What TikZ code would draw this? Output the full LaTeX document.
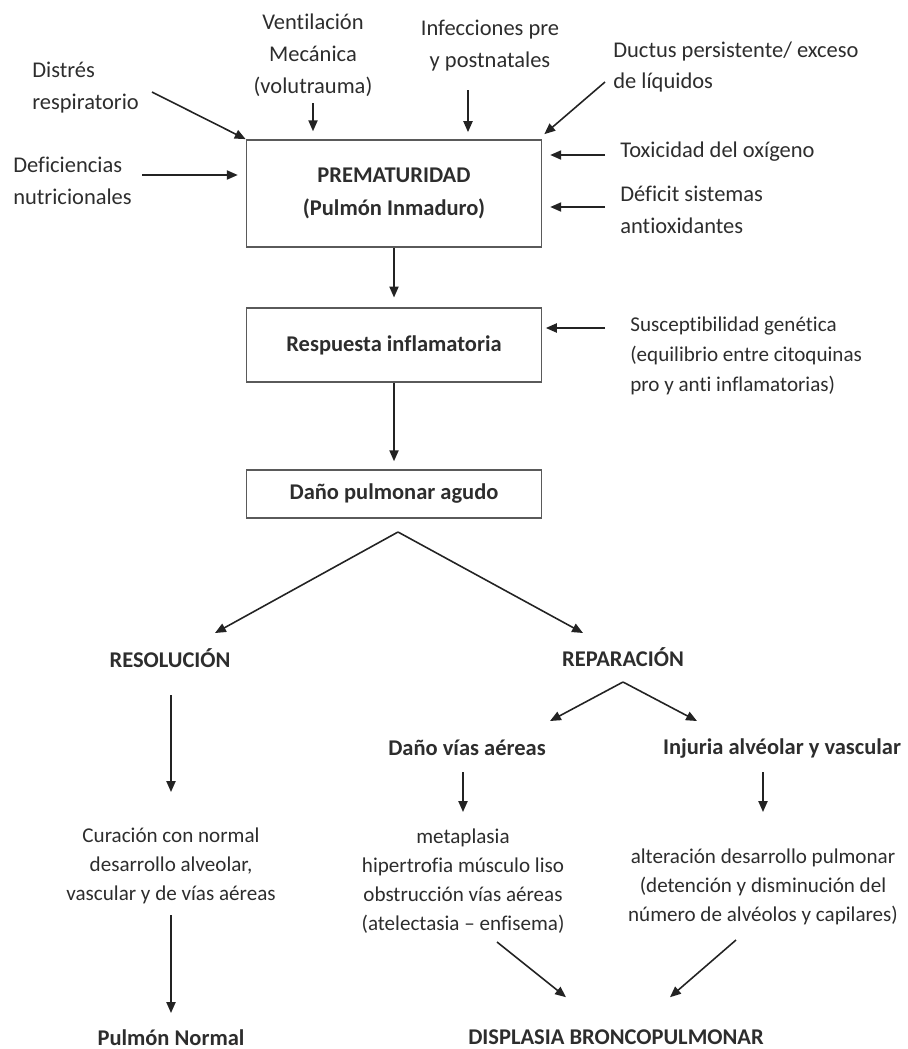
\documentclass[tikz,border=0pt]{standalone}
\usepackage{fontspec}
\setmainfont{Carlito}[Ligatures=NoCommon]
\usepackage{tikz}
\usetikzlibrary{calc,arrows.meta}
\definecolor{textgray}{RGB}{45,45,45}
\definecolor{linegray}{RGB}{35,35,35}
\definecolor{boxgray}{RGB}{90,90,90}

\begin{document}
\begin{tikzpicture}[x=0.02cm, y=-0.02cm,
    lbl/.style={text=textgray, inner sep=0pt, align=center, font=\fontsize{12.8}{18.2}\selectfont},
    lblleft/.style={lbl, align=left, anchor=west},
    lblsmall/.style={lbl, font=\fontsize{12}{16.4}\selectfont},
    head/.style={lbl, font=\fontsize{12.8}{18.2}\selectfont\bfseries},
    stage/.style={draw=boxgray, line width=1pt, text=textgray, align=center,
        font=\fontsize{12.8}{18.7}\selectfont\bfseries, minimum width=5.9cm},
    flow/.style={draw=linegray, line width=0.9pt, -{Triangle[length=6.2pt,width=5.2pt]}}]
    \useasboundingbox (0,0) rectangle (907,1049);

    % Main boxes
    \node[stage, minimum height=2.14cm] (prem) at (394,193.5) {PREMATURIDAD\\(Pulmón Inmaduro)};
    \node[stage, minimum height=1.48cm] (resp) at (394,345) {Respuesta inflamatoria};
    \node[stage, minimum height=0.96cm] (dano) at (394,494) {Daño pulmonar agudo};

    % Risk factors around the top box
    \node[lblleft] (distres) at (32,88) {Distrés\\respiratorio};
    \node[lbl] (vent) at (313,55) {Ventilación\\Mecánica\\(volutrauma)};
    \node[lbl] (infec) at (490,46) {Infecciones pre\\y postnatales};
    \node[lblleft] (ductus) at (613,67) {Ductus persistente/ exceso\\de líquidos};
    \node[lblleft] (defic) at (13,181) {Deficiencias\\nutricionales};
    \node[lblleft] (toxic) at (620,152) {Toxicidad del oxígeno};
    \node[lblleft] (deficit) at (620,210) {Déficit sistemas\\antioxidantes};
    \node[lblleft, font=\fontsize{12}{17}\selectfont] (suscep) at (630,356)
        {Susceptibilidad genética\\(equilibrio entre citoquinas\\pro y anti inflamatorias)};

    % Tails of the factor arrows
    \coordinate (distres-t) at (152,92);
    \coordinate (vent-t) at (313,103);
    \coordinate (infec-t) at (468,90);
    \coordinate (ductus-t) at (605,82);
    \coordinate (defic-t) at (142,175);
    \coordinate (toxic-t) at (605,155);
    \coordinate (deficit-t) at (605,207);
    \coordinate (suscep-t) at (605,328);

    \draw[flow] (distres-t) -- (prem.north west);
    \draw[flow, shorten >=4.5pt] (vent-t) -- (vent-t |- prem.north);
    \draw[flow, shorten >=4pt] (infec-t) -- (infec-t |- prem.north);
    \draw[flow] (ductus-t) -- ($(prem.north east)+(2,-5)$);
    \draw[flow, shorten >=4.5pt] (defic-t) -- (defic-t -| prem.west);
    \draw[flow, shorten >=4.5pt] (toxic-t) -- (toxic-t -| prem.east);
    \draw[flow, shorten >=4.5pt] (deficit-t) -- (deficit-t -| prem.east);
    \draw[flow, shorten >=2pt] (suscep-t) -- (suscep-t -| resp.east);

    % Main chain
    \draw[flow, shorten >=5.5pt] (prem) -- (resp);
    \draw[flow, shorten >=4.5pt] (resp) -- (dano);

    % Outcomes
    \node[head] (resol) at (170,658) {RESOLUCIÓN};
    \node[head] (repar) at (623,657) {REPARACIÓN};
    \node[head] (danovias) at (467,748) {Daño vías aéreas};
    \node[head] (injuria) at (782,748) {Injuria alvéolar y vascular};
    \node[lblsmall] (curacion) at (171,866) {Curación con normal\\desarrollo alveolar,\\vascular y de vías aéreas};
    \node[lblsmall] (metapl) at (463,881) {metaplasia\\hipertrofia músculo liso\\obstrucción vías aéreas\\(atelectasia – enfisema)};
    \node[lblsmall] (alter) at (763,887) {alteración desarrollo pulmonar\\(detención y disminución del\\número de alvéolos y capilares)};
    \node[head] (pulmon) at (171,1038) {Pulmón Normal};
    \node[head] (bpd) at (616,1037) {DISPLASIA BRONCOPULMONAR};

    % Forks
    \coordinate (fork1) at (398,532);
    \coordinate (resol-in) at (215,633);
    \coordinate (repar-in) at (583,633);
    \draw[flow] (fork1) -- (resol-in);
    \draw[flow] (fork1) -- (repar-in);

    \coordinate (fork2) at (623,682);
    \coordinate (danovias-in) at (550,721);
    \coordinate (injuria-in) at (697,721);
    \draw[flow] (fork2) -- (danovias-in);
    \draw[flow] (fork2) -- (injuria-in);

    % Downward arrows
    \draw[flow] (171,695) -- (171,792);
    \draw[flow] (171,915) -- (171,1013);
    \draw[flow] (463,772) -- (463,812);
    \draw[flow] (763,772) -- (763,812);

    % Into the final outcome
    \coordinate (metapl-t) at (497,942);
    \coordinate (alter-t) at (736,940);
    \draw[flow] (metapl-t) -- ($(bpd.north)+(-50,-32)$);
    \draw[flow] (alter-t) -- ($(bpd.north)+(54,-32)$);
\end{tikzpicture}
\end{document}
